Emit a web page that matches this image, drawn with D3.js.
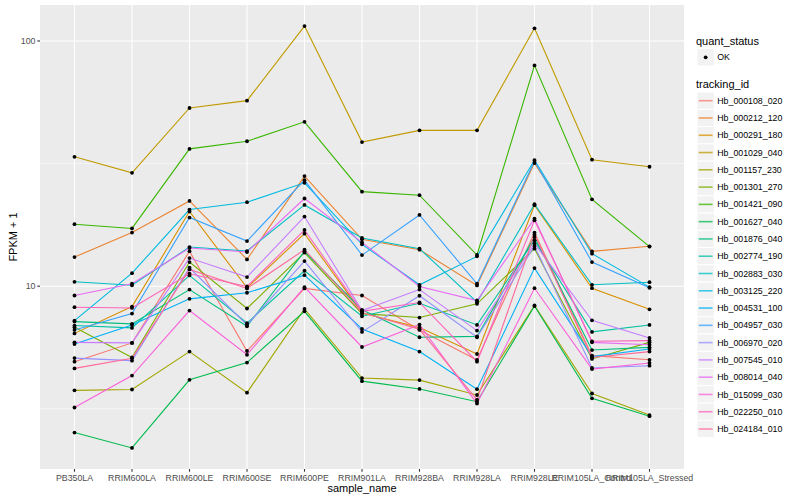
<!DOCTYPE html>
<html>
<head>
<meta charset="utf-8">
<title>FPKM by sample</title>
<script src="https://cdn.jsdelivr.net/npm/d3@7"></script>
<style>
  body { margin: 0; background: #fff; }
  svg text { font-family: "Liberation Sans", Arial, sans-serif; }
  .tick-label { font-size: 8.8px; fill: #4d4d4d; }
  .axis-title { font-size: 11px; fill: #000; }
  .legend-title { font-size: 11px; fill: #000; }
  .legend-label { font-size: 8.8px; fill: #000; }
</style>
</head>
<body>
<svg id="chart" width="800" height="500"></svg>
<script>
// sample names on the x axis
var samples = ['PB350LA', 'RRIM600LA', 'RRIM600LE', 'RRIM600SE', 'RRIM600PE', 'RRIM901LA',
               'RRIM928BA', 'RRIM928LA', 'RRIM928LE', 'RRIM105LA_Control', 'RRIM105LA_Stressed'];

// FPKM + 1 per gene, one value per sample
var hb_000108_020 = [4.92, 5.87, 13.87, 5.44, 9.79, 9.16, 6.63, 5.00, 16.54, 5.21, 5.01];
var hb_000212_120 = [13.14, 16.54, 22.27, 12.86, 28.11, 15.53, 14.09, 10.07, 31.77, 13.87, 14.54];
var hb_000291_180 = [6.42, 8.26, 20.16, 9.85, 16.38, 7.78, 6.78, 5.29, 21.39, 9.81, 8.05];
var hb_001029_040 = [33.7, 29.0, 53.3, 57.1, 115, 38.7, 43.2, 43.2, 112.6, 32.8, 30.7];
var hb_001157_230 = [3.76, 3.79, 5.41, 3.68, 8.08, 4.22, 4.14, 3.60, 8.34, 3.65, 2.98];
var hb_001301_270 = [6.80, 5.12, 12.54, 8.11, 13.70, 7.73, 7.45, 8.47, 14.22, 5.05, 5.90];
var hb_001421_090 = [17.9, 17.2, 36.3, 39.0, 46.8, 24.3, 23.5, 13.4, 79.5, 22.6, 14.5];
var hb_001627_040 = [2.53, 2.19, 4.15, 4.88, 7.90, 4.10, 3.81, 3.38, 8.30, 3.49, 2.95];
var hb_001876_040 = [7.17, 7.02, 9.69, 6.86, 13.87, 8.01, 6.19, 6.24, 15.87, 5.49, 5.63];
var hb_002774_190 = [6.91, 6.76, 11.06, 7.06, 11.56, 7.54, 8.52, 6.95, 15.38, 6.51, 6.95];
var hb_002883_030 = [10.42, 10.09, 14.44, 13.91, 21.45, 15.72, 14.22, 8.60, 21.59, 10.13, 10.38];
var hb_003125_220 = [7.24, 11.30, 20.54, 22.00, 26.39, 14.81, 10.13, 13.23, 32.68, 13.57, 9.91];
var hb_004531_100 = [5.81, 6.95, 8.88, 9.40, 11.09, 6.69, 5.41, 3.80, 11.85, 5.16, 5.54];
var hb_004957_030 = [6.63, 7.73, 19.05, 15.28, 27.07, 13.39, 19.52, 10.23, 32.38, 12.54, 9.85];
var hb_006970_020 = [5.09, 4.97, 11.89, 6.95, 12.66, 6.51, 9.14, 6.19, 14.58, 4.64, 4.74];
var hb_007545_010 = [5.90, 5.87, 13.02, 10.89, 19.23, 7.95, 9.69, 6.59, 14.91, 7.26, 6.15];
var hb_008014_040 = [9.16, 10.23, 14.31, 13.78, 22.78, 15.09, 9.97, 8.74, 18.87, 5.90, 5.77];
var hb_015099_030 = [3.20, 4.32, 7.95, 5.25, 9.91, 5.65, 6.97, 3.32, 9.81, 4.59, 4.86];
var hb_022250_010 = [8.21, 8.15, 11.24, 9.97, 16.95, 7.90, 8.58, 4.92, 18.57, 5.96, 6.00];
var hb_024184_010 = [4.62, 5.08, 11.70, 9.79, 14.09, 7.81, 6.67, 3.44, 16.23, 5.12, 5.41];

var trackingIds = ['Hb_000108_020', 'Hb_000212_120', 'Hb_000291_180', 'Hb_001029_040', 'Hb_001157_230',
                   'Hb_001301_270', 'Hb_001421_090', 'Hb_001627_040', 'Hb_001876_040', 'Hb_002774_190',
                   'Hb_002883_030', 'Hb_003125_220', 'Hb_004531_100', 'Hb_004957_030', 'Hb_006970_020',
                   'Hb_007545_010', 'Hb_008014_040', 'Hb_015099_030', 'Hb_022250_010', 'Hb_024184_010'];

var seriesValues = [hb_000108_020, hb_000212_120, hb_000291_180, hb_001029_040, hb_001157_230,
                    hb_001301_270, hb_001421_090, hb_001627_040, hb_001876_040, hb_002774_190,
                    hb_002883_030, hb_003125_220, hb_004531_100, hb_004957_030, hb_006970_020,
                    hb_007545_010, hb_008014_040, hb_015099_030, hb_022250_010, hb_024184_010];

var quantStatus = ['OK'];
var yTicks = [10, 100];

// ggplot default hue palette for 20 groups
var palette = ['#F8766D', '#EA8331', '#D89000', '#C09B00', '#A3A500', '#7CAE00', '#39B600', '#00BB4E',
               '#00BF7D', '#00C1A3', '#00BFC4', '#00BAE0', '#00B0F6', '#35A2FF', '#9590FF', '#C77CFF',
               '#E76BF3', '#FA62DB', '#FF62BC', '#FF6A98'];

var series = trackingIds.map(function(id, i) {
    return { id: id, values: seriesValues[i].map(function(v, j) { return { sample: samples[j], value: v }; }) };
});

var panel = { left: 40, right: 684, top: 5, bottom: 469 };
var svg = d3.select('#chart');

// log10 y with ggplot-like 5% expansion in log space
var allVals = [].concat.apply([], seriesValues);
var lmin = Math.log10(d3.min(allVals)), lmax = Math.log10(d3.max(allVals));
var pad = (lmax - lmin) * 0.05;
var y = d3.scaleLog()
    .domain([Math.pow(10, lmin - pad), Math.pow(10, lmax + pad)])
    .range([panel.bottom, panel.top]);

var x = d3.scalePoint()
    .domain(samples)
    .range([panel.left, panel.right])
    .padding(0.6);

var color = d3.scaleOrdinal().domain(trackingIds).range(palette);

// panel background
svg.append('rect')
   .attr('x', panel.left).attr('y', panel.top)
   .attr('width', panel.right - panel.left).attr('height', panel.bottom - panel.top)
   .attr('fill', '#ebebeb');

// minor grid (half decades)
var minor = [Math.sqrt(10), Math.sqrt(1000)];
svg.append('g').selectAll('line').data(minor).enter().append('line')
   .attr('x1', panel.left).attr('x2', panel.right)
   .attr('y1', function(d) { return y(d); }).attr('y2', function(d) { return y(d); })
   .attr('stroke', '#fff').attr('stroke-width', 0.55);

// major grid
svg.append('g').selectAll('line').data(yTicks).enter().append('line')
   .attr('x1', panel.left).attr('x2', panel.right)
   .attr('y1', function(d) { return y(d); }).attr('y2', function(d) { return y(d); })
   .attr('stroke', '#fff').attr('stroke-width', 1.1);

svg.append('g').selectAll('line').data(samples).enter().append('line')
   .attr('y1', panel.top).attr('y2', panel.bottom)
   .attr('x1', function(d) { return x(d); }).attr('x2', function(d) { return x(d); })
   .attr('stroke', '#fff').attr('stroke-width', 1.1);

// lines
var line = d3.line()
    .x(function(d) { return x(d.sample); })
    .y(function(d) { return y(d.value); });

svg.append('g').selectAll('path').data(series).enter().append('path')
   .attr('d', function(d) { return line(d.values); })
   .attr('fill', 'none')
   .attr('stroke', function(d) { return color(d.id); })
   .attr('stroke-width', 1.1);

// points
svg.append('g').selectAll('g').data(series).enter().append('g')
   .selectAll('circle').data(function(d) { return d.values; }).enter().append('circle')
   .attr('cx', function(d) { return x(d.sample); })
   .attr('cy', function(d) { return y(d.value); })
   .attr('r', 1.9)
   .attr('fill', '#000');

// y axis ticks and labels
var yAxis = svg.append('g');
yAxis.selectAll('line').data(yTicks).enter().append('line')
     .attr('x1', panel.left - 2.7).attr('x2', panel.left)
     .attr('y1', function(d) { return y(d); }).attr('y2', function(d) { return y(d); })
     .attr('stroke', '#333').attr('stroke-width', 1.1);
yAxis.selectAll('text').data(yTicks).enter().append('text')
     .attr('class', 'tick-label')
     .attr('x', panel.left - 4.5)
     .attr('y', function(d) { return y(d); })
     .attr('dy', '0.35em')
     .attr('text-anchor', 'end')
     .text(function(d) { return d; });

// x axis ticks and labels
var xAxis = svg.append('g');
xAxis.selectAll('line').data(samples).enter().append('line')
     .attr('y1', panel.bottom).attr('y2', panel.bottom + 2.7)
     .attr('x1', function(d) { return x(d); }).attr('x2', function(d) { return x(d); })
     .attr('stroke', '#333').attr('stroke-width', 1.1);
xAxis.selectAll('text').data(samples).enter().append('text')
     .attr('class', 'tick-label')
     .attr('x', function(d) { return x(d); })
     .attr('y', panel.bottom + 11.5)
     .attr('text-anchor', 'middle')
     .text(function(d) { return d; });

// axis titles
svg.append('text').attr('class', 'axis-title')
   .attr('x', (panel.left + panel.right) / 2).attr('y', 492)
   .attr('text-anchor', 'middle')
   .text('sample_name');

svg.append('text').attr('class', 'axis-title')
   .attr('transform', 'translate(17,' + ((panel.top + panel.bottom) / 2) + ') rotate(-90)')
   .attr('text-anchor', 'middle')
   .text('FPKM + 1');

// legends
var lx = 696, keyW = 17.28;
var legend = svg.append('g');

legend.append('text').attr('class', 'legend-title')
      .attr('x', lx).attr('y', 44.5).text('quant_status');

var qs = legend.selectAll('.qs').data(quantStatus).enter().append('g').attr('class', 'qs');
qs.append('rect')
  .attr('x', lx + 1).attr('y', 57.3 - keyW / 2)
  .attr('width', keyW).attr('height', keyW)
  .attr('fill', '#f2f2f2').attr('stroke', '#fff');
qs.append('circle')
  .attr('cx', lx + 1 + keyW / 2).attr('cy', 57.3).attr('r', 1.9).attr('fill', '#000');
qs.append('text').attr('class', 'legend-label')
  .attr('x', lx + 1 + keyW + 3).attr('y', 57.3).attr('dy', '0.35em')
  .text(function(d) { return d; });

legend.append('text').attr('class', 'legend-title')
      .attr('x', lx).attr('y', 87.5).text('tracking_id');

var keys = legend.selectAll('.tid').data(trackingIds).enter().append('g')
    .attr('class', 'tid')
    .attr('transform', function(d, i) { return 'translate(' + (lx + 1) + ',' + (100.7 + i * keyW) + ')'; });

keys.append('rect')
    .attr('x', 0).attr('y', -keyW / 2)
    .attr('width', keyW).attr('height', keyW)
    .attr('fill', '#f2f2f2').attr('stroke', '#fff');
keys.append('line')
    .attr('x1', 1.7).attr('x2', keyW - 1.7)
    .attr('y1', 0).attr('y2', 0)
    .attr('stroke', function(d) { return color(d); })
    .attr('stroke-opacity', 0.75)
    .attr('stroke-width', 1.6);
keys.append('text').attr('class', 'legend-label')
    .attr('x', keyW + 3).attr('y', 0).attr('dy', '0.35em')
    .text(function(d) { return d; });
</script>
</body>
</html>
